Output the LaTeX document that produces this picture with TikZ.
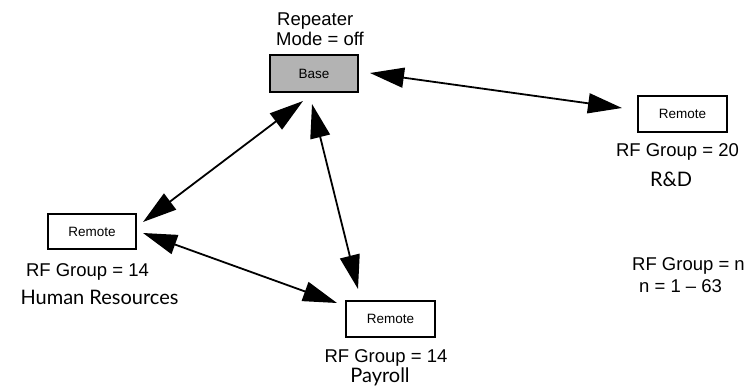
\documentclass[tikz,border=0pt]{standalone}
\usepackage{fontspec}
\setmainfont{Liberation Sans}
\newfontfamily\gillfont{Lato}
\usetikzlibrary{arrows.meta,calc}
\definecolor{basegray}{HTML}{B3B3B3}
\tikzset{
  unitbox/.style={draw=black, line width=2pt, minimum width=88pt, minimum height=36pt, inner sep=0pt, font=\fontsize{13.5}{15}\selectfont},
  lbl/.style={inner sep=0pt, anchor=base, font=\fontsize{18.5}{20}\selectfont},
  lblw/.style={inner sep=0pt, anchor=base west, font=\fontsize{18.5}{20}\selectfont},
  grplabel/.style={inner sep=0pt, anchor=base, font=\gillfont\fontsize{20}{22}\selectfont},
  linkarrow/.style={line width=1.8pt, {Triangle[length=34pt,width=20pt]}-{Triangle[length=34pt,width=20pt]}}
}
\begin{document}
\begin{tikzpicture}[x=1pt,y=-1pt]
\useasboundingbox (0,0) rectangle (744,390);
% boxes
\node[unitbox, fill=basegray, minimum width=88pt, minimum height=37pt] (base) at (314,73.5) {Base};
\node[unitbox, minimum width=89pt] (rd) at (682.5,114) {Remote};
\node[unitbox, minimum height=35pt] (hr) at (92,231.5) {Remote};
\node[unitbox, minimum width=89pt] (pay) at (390.5,319) {Remote};
% labels
\node[lblw] (rep1) at (277,26) {Repeater};
\node[lblw] (rep2) at (276,46) {Mode = off};
\node[lbl] (rfrd) at (677.5,157) {RF Group = 20};
\node[grplabel] (nrd) at (671,186) {R\&D};
\node[lbl] (rfhr) at (87.5,276) {RF Group = 14};
\node[grplabel] (nhr) at (99.5,304) {Human Resources};
\node[lbl] (rfpay) at (386,362) {RF Group = 14};
\node[grplabel] (npay) at (380,382) {Payroll};
\node[lblw] (rfn) at (632,270) {RF Group = n};
\node[lblw] (nrange) at (639,292) {n = 1 – 63};
% connectors
\draw[linkarrow] ($(base.east)+(11,-0.5)$) -- ($(rd.west)+(-15,-6)$);
\draw[linkarrow] ($(base.south)+(-11,8)$) -- ($(hr.east)+(6,-9.5)$);
\draw[linkarrow] ($(base.south)+(-2,11)$) -- ($(pay.north)+(-32.5,-11)$);
\draw[linkarrow] ($(hr.east)+(6,1.5)$) -- ($(pay.west)+(-8,-16)$);
\end{tikzpicture}
\end{document}
